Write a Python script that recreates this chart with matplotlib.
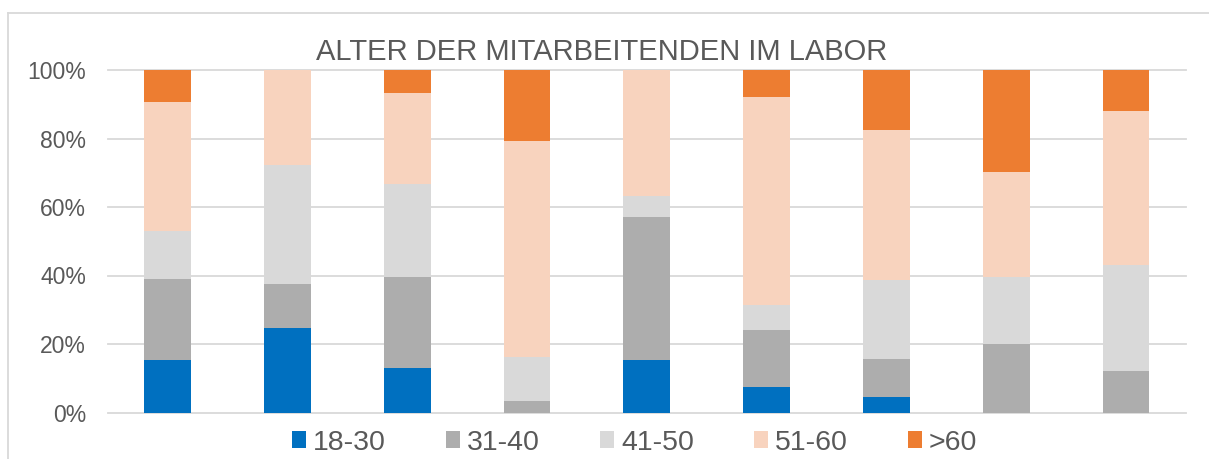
import numpy as np
import matplotlib.pyplot as plt
from matplotlib.patches import Patch
from matplotlib.lines import Line2D

plt.rcParams['font.family'] = ['Liberation Sans', 'DejaVu Sans']

# nine groups, no x labels in the original
groups = np.arange(1, 10)
age_labels = ['18-30', '31-40', '41-50', '51-60', '>60']

# shares in percent
share_18_30 = [15.4, 24.7, 13.0, 0.0, 15.4, 7.4, 4.5, 0.0, 0.0]
share_31_40 = [23.6, 12.7, 26.6, 3.3, 41.6, 16.6, 11.2, 19.9, 12.0]
share_41_50 = [14.1, 34.8, 27.0, 12.9, 6.1, 7.4, 22.9, 19.8, 31.1]
share_51_60 = [37.5, 27.8, 26.7, 63.0, 36.9, 60.7, 43.8, 30.4, 44.9]
share_60plus = [9.4, 0.0, 6.7, 20.8, 0.0, 7.9, 17.6, 29.9, 12.0]

colors = ['#0070C0', '#ADADAD', '#D9D9D9', '#F8D3BE', '#ED7D31']
text_col = '#595959'

W, H = 1209, 459
fig = plt.figure(figsize=(W / 100, H / 100), dpi=100)
ax = fig.add_axes([107.6 / W, 46.5 / H, (1186 - 107.6) / W, (412.5 - 70) / H])

series = [share_18_30, share_31_40, share_41_50, share_51_60, share_60plus]
bottom = np.zeros(len(groups))
for vals, col, lab in zip(series, colors, age_labels):
    v = np.array(vals) / 100.0
    ax.bar(groups, v, width=0.39, bottom=bottom, color=col, label=lab, zorder=2)
    bottom += v

ax.set_xlim(0.5, 9.5)
ax.set_ylim(0, 1)
ax.set_yticks(np.linspace(0, 1, 6))
ax.set_yticklabels([f'{int(t * 100)}%' for t in np.linspace(0, 1, 6)])
ax.set_xticks([])
ax.tick_params(axis='y', length=0, pad=15.5, labelsize=16.5, labelcolor=text_col)
ax.grid(axis='y', color='#D9D9D9', linewidth=1.3, zorder=0)
for ln in ax.get_ygridlines():
    ln.set_clip_on(False)
ax.set_axisbelow(True)
for s in ax.spines.values():
    s.set_visible(False)

fig.text(602 / W, 1 - 60 / H, 'ALTER DER MITARBEITENDEN IM LABOR',
         ha='center', va='baseline', fontsize=21, color=text_col)

handles = [Patch(facecolor=c, edgecolor='none') for c in colors]
fig.legend(handles, age_labels, loc='center', bbox_to_anchor=(634.5 / W, 16.5 / H),
           ncol=5, frameon=False, fontsize=20.5, labelcolor=text_col,
           handlelength=0.5, handleheight=0.5, handletextpad=0.25,
           columnspacing=2.1, borderpad=0)

# outer chart frame (only top and left edges visible in the crop)
fig.add_artist(Line2D([8.3 / W, 8.3 / W], [0, 1 - 12.7 / H], transform=fig.transFigure,
                      color='#D9D9D9', linewidth=1.3))
fig.add_artist(Line2D([8.3 / W, 1], [1 - 12.7 / H, 1 - 12.7 / H], transform=fig.transFigure,
                      color='#D9D9D9', linewidth=1.3))

fig.savefig('out.png', dpi=100)
